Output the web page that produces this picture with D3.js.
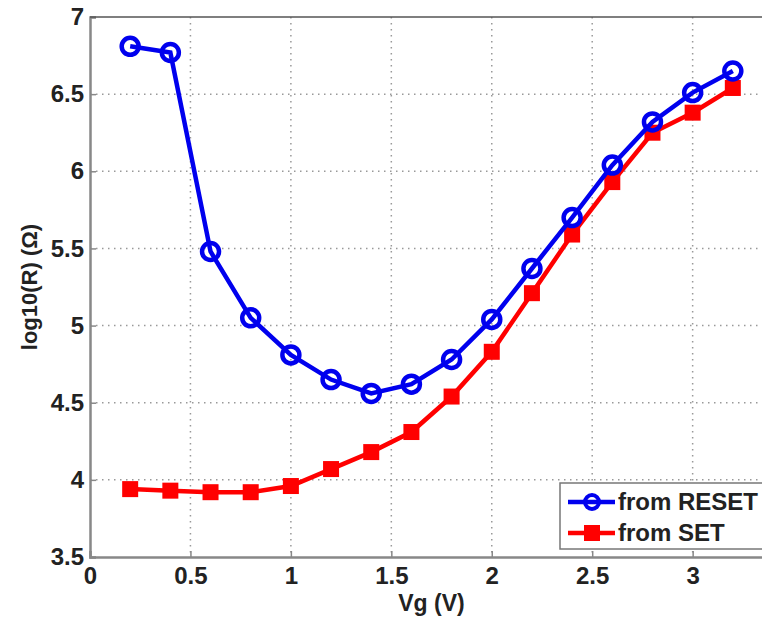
<!DOCTYPE html>
<meta charset="utf-8">
<head>
<style>
  body { margin: 0; background: #fff; }
  svg { display: block; font-family: Arial, "Liberation Sans", sans-serif; }
</style>
</head>
<body>
<div class="main"></div>
<script src="https://d3js.org/d3.v7.min.js"></script>
<script>
  // data
  var vg = [0.2, 0.4, 0.6, 0.8, 1.0, 1.2, 1.4, 1.6, 1.8, 2.0, 2.2, 2.4, 2.6, 2.8, 3.0, 3.2];
  var fromReset = [6.81, 6.77, 5.48, 5.05, 4.81, 4.65, 4.56, 4.62, 4.78, 5.04, 5.37, 5.70, 6.04, 6.32, 6.51, 6.65];
  var fromSet = [3.94, 3.93, 3.92, 3.92, 3.96, 4.07, 4.18, 4.31, 4.54, 4.83, 5.21, 5.59, 5.93, 6.25, 6.38, 6.54];
  var xTicks = [0, 0.5, 1, 1.5, 2, 2.5, 3];
  var yTicks = [3.5, 4, 4.5, 5, 5.5, 6, 6.5, 7];
  var seriesNames = ["from RESET", "from SET"];

  var width = 762, height = 617;
  var pLeft = 90, pTop = 17, pRight = 773, pBottom = 557;

  var svg = d3.select(".main").append("svg")
    .attr("width", width)
    .attr("height", height);

  var x = d3.scaleLinear().domain([0, 3.4]).range([pLeft, pRight]);
  var y = d3.scaleLinear().domain([3.5, 7]).range([pBottom, pTop]);

  // grid (dotted)
  var grid = svg.append("g").attr("stroke", "#999").attr("stroke-width", 1.5)
    .attr("stroke-dasharray", "1.5,4.5");
  grid.selectAll(".vg").data(xTicks.slice(1)).enter().append("line")
    .attr("x1", d => x(d)).attr("x2", d => x(d))
    .attr("y1", pTop).attr("y2", pBottom);
  grid.selectAll(".hg").data(yTicks.slice(1, -1)).enter().append("line")
    .attr("x1", pLeft).attr("x2", pRight)
    .attr("y1", d => y(d)).attr("y2", d => y(d));

  // axes (ticks inward, matlab style)
  var xAxis = svg.append("g")
    .attr("transform", "translate(0," + pBottom + ")")
    .call(d3.axisBottom(x).tickValues(xTicks).tickSize(-6).tickPadding(10).tickFormat(d3.format("")));
  var yAxis = svg.append("g")
    .attr("transform", "translate(" + pLeft + ",0)")
    .call(d3.axisLeft(y).tickValues(yTicks).tickSize(-6).tickPadding(6).tickFormat(d3.format("")));
  xAxis.select(".domain").attr("stroke", "#888").attr("stroke-width", 2.5);
  yAxis.select(".domain").attr("stroke", "#888").attr("stroke-width", 2.5);
  svg.selectAll(".tick line").attr("stroke", "#888").attr("stroke-width", 1.5);
  svg.selectAll(".tick text")
    .attr("font-family", "Arial, 'Liberation Sans', sans-serif")
    .attr("font-weight", "bold").attr("font-size", 24).attr("fill", "#222");

  // top border
  svg.append("line")
    .attr("x1", pLeft).attr("x2", pRight)
    .attr("y1", pTop).attr("y2", pTop)
    .attr("stroke", "#555").attr("stroke-width", 1.5);

  // axis labels
  svg.append("text")
    .attr("x", (pLeft + pRight) / 2).attr("y", 611)
    .attr("text-anchor", "middle")
    .attr("font-weight", "bold").attr("font-size", 23).attr("fill", "#222")
    .text("Vg (V)");
  svg.append("text")
    .attr("transform", "translate(37," + ((pTop + pBottom) / 2) + ") rotate(-90)")
    .attr("text-anchor", "middle")
    .attr("font-weight", "bold").attr("font-size", 22).attr("fill", "#222")
    .text("log10(R) (Ω)");

  var line = d3.line().x(d => x(d[0])).y(d => y(d[1]));
  var resetData = vg.map((v, i) => [v, fromReset[i]]);
  var setData = vg.map((v, i) => [v, fromSet[i]]);

  // red SET series
  svg.append("path").datum(setData)
    .attr("d", line).attr("fill", "none")
    .attr("stroke", "#f00").attr("stroke-width", 4.5);
  svg.selectAll(".sq").data(setData).enter().append("rect")
    .attr("x", d => x(d[0]) - 8).attr("y", d => y(d[1]) - 8)
    .attr("width", 16).attr("height", 16)
    .attr("fill", "#f00");

  // blue RESET series
  svg.append("path").datum(resetData)
    .attr("d", line).attr("fill", "none")
    .attr("stroke", "#0000ee").attr("stroke-width", 4.5);
  svg.selectAll(".ci").data(resetData).enter().append("circle")
    .attr("cx", d => x(d[0])).attr("cy", d => y(d[1]))
    .attr("r", 8.5).attr("fill", "none")
    .attr("stroke", "#0000ee").attr("stroke-width", 4.5);

  // legend
  var lg = svg.append("g");
  lg.append("rect")
    .attr("x", 560).attr("y", 483).attr("width", 220).attr("height", 66)
    .attr("fill", "#fff").attr("stroke", "#777").attr("stroke-width", 1.5);
  var rows = lg.selectAll(".row").data(seriesNames).enter().append("g")
    .attr("transform", (d, i) => "translate(0," + (502 + i * 31) + ")");
  rows.append("line")
    .attr("x1", 568).attr("x2", 615).attr("y1", 0).attr("y2", 0)
    .attr("stroke", (d, i) => i === 0 ? "#0000ee" : "#f00").attr("stroke-width", 4.5);
  rows.filter((d, i) => i === 0).append("circle")
    .attr("cx", 592).attr("cy", 0).attr("r", 7)
    .attr("fill", "none").attr("stroke", "#0000ee").attr("stroke-width", 4);
  rows.filter((d, i) => i === 1).append("rect")
    .attr("x", 584).attr("y", -8).attr("width", 16).attr("height", 16)
    .attr("fill", "#f00");
  rows.append("text")
    .attr("x", 618).attr("y", 0).attr("dy", "0.35em")
    .attr("font-weight", "bold").attr("font-size", 24).attr("fill", "#222")
    .text(d => d);
</script>
</body>
